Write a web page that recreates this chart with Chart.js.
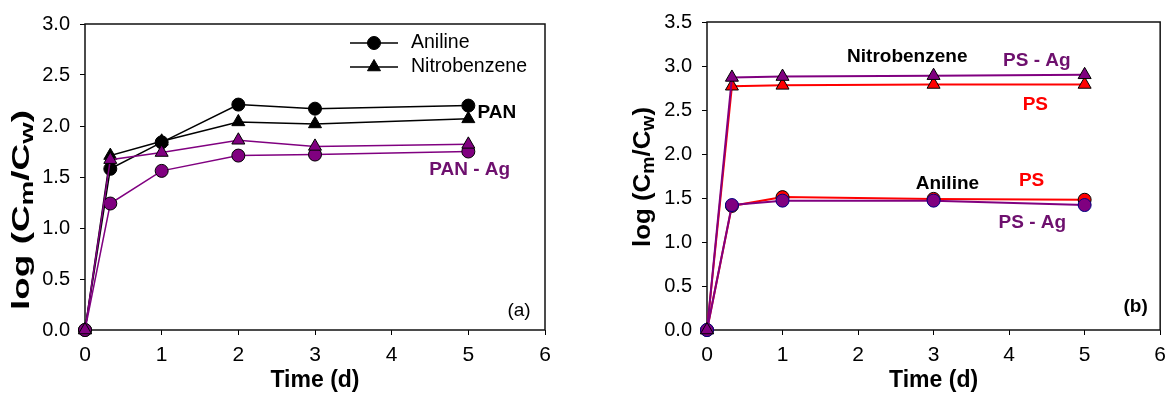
<!DOCTYPE html>
<html>
<head>
<meta charset="utf-8">
<script src="https://cdn.jsdelivr.net/npm/chart.js"></script>
<style>
  html, body { margin: 0; padding: 0; background: #fff; }
  .row { display: flex; width: 1174px; height: 394px; }
  canvas { display: block; }
</style>
</head>
<body>
<div class="row">
  <canvas id="panChart" width="587" height="394"></canvas>
  <canvas id="psChart" width="587" height="394"></canvas>
</div>
<script>
// sampling times in days
const panTime = [0, 0.33, 1, 2, 3, 5];
const psTime = [0, 0.33, 1, 3, 5];

// (a) PAN and PAN - Ag membranes, log(Cm/Cw)
const panAniline = [0, 1.58, 1.84, 2.21, 2.17, 2.20];
const panNitrobenzene = [0, 1.71, 1.85, 2.04, 2.02, 2.07];
const panAgAniline = [0, 1.24, 1.56, 1.71, 1.72, 1.75];
const panAgNitrobenzene = [0, 1.67, 1.74, 1.86, 1.80, 1.82];

// (b) PS and PS - Ag membranes, log(Cm/Cw)
const psAniline = [0, 1.41, 1.51, 1.49, 1.48];
const psNitrobenzene = [0, 2.77, 2.78, 2.79, 2.79];
const psAgAniline = [0, 1.42, 1.47, 1.47, 1.42];
const psAgNitrobenzene = [0, 2.87, 2.88, 2.89, 2.90];

// axis ranges
const xMax = 6;
const panYMax = 3.0;
const psYMax = 3.5;

const FONT = 'Arial, "Liberation Sans", sans-serif';
const PURPLE = '#800080';
const PURPLE_TEXT = '#6e106e';
const RED = '#ff0000';

function series(label, xs, ys, s) {
  return {
    label,
    data: xs.map((t, i) => ({ x: t, y: ys[i] })),
    borderColor: s.line,
    borderWidth: s.width || 1.5,
    pointStyle: s.shape,
    pointRadius: s.shape === 'triangle' ? 7.5 : 6.5,
    pointBackgroundColor: s.fill,
    pointBorderColor: s.edge || '#000',
    pointBorderWidth: 1,
    tension: 0,
    clip: false,
    order: s.order
  };
}

// box around the plot area
const frame = {
  id: 'frame',
  beforeDatasetsDraw(chart) {
    const { ctx, chartArea: a } = chart;
    ctx.save();
    ctx.strokeStyle = '#111';
    ctx.lineWidth = 1.5;
    ctx.strokeRect(a.left, a.top, a.right - a.left, a.bottom - a.top);
    ctx.restore();
  }
};

// rotated y title with subscripts: log (Cm/Cw)
const yTitle = {
  id: 'yTitle',
  afterDraw(chart, args, opts) {
    const ctx = chart.ctx;
    const parts = [['log (C', false], ['m', true], ['/C', false], ['w', true], [')', false]];
    const big = `bold 24px ${FONT}`;
    const small = `bold 18px ${FONT}`;
    ctx.save();
    let w = 0;
    for (const [t, sub] of parts) {
      ctx.font = sub ? small : big;
      w += ctx.measureText(t).width;
    }
    ctx.translate(opts.x, opts.y);
    ctx.rotate(-Math.PI / 2);
    ctx.scale(opts.length / w, 1);
    ctx.fillStyle = '#000';
    ctx.textBaseline = 'alphabetic';
    let x = -w / 2;
    for (const [t, sub] of parts) {
      ctx.font = sub ? small : big;
      ctx.fillText(t, x, sub ? 12 : 8);
      x += ctx.measureText(t).width;
    }
    ctx.restore();
  }
};

// legend drawn inside the plot: line with marker, then label
const insetLegend = {
  id: 'insetLegend',
  afterDatasetsDraw(chart, args, opts) {
    if (!opts.datasets) return;
    const ctx = chart.ctx;
    opts.datasets.forEach((index, row) => {
      const ds = chart.data.datasets[index];
      const y = opts.y + row * opts.rowHeight;
      ctx.save();
      ctx.strokeStyle = ds.borderColor;
      ctx.lineWidth = ds.borderWidth;
      ctx.beginPath();
      ctx.moveTo(opts.x, y);
      ctx.lineTo(opts.x + opts.lineLength, y);
      ctx.stroke();
      ctx.fillStyle = ds.pointBackgroundColor;
      ctx.strokeStyle = ds.pointBorderColor;
      ctx.lineWidth = ds.pointBorderWidth;
      Chart.helpers.drawPoint(ctx, {
        pointStyle: ds.pointStyle,
        radius: ds.pointRadius,
        borderWidth: ds.pointBorderWidth,
        rotation: 0
      }, opts.x + opts.lineLength / 2, y);
      ctx.fillStyle = '#000';
      ctx.font = `19.5px ${FONT}`;
      ctx.textBaseline = 'middle';
      ctx.fillText(ds.label, opts.x + opts.lineLength + opts.gap, y);
      ctx.restore();
    });
  }
};

// text labels placed in data units
const notes = {
  id: 'notes',
  afterDatasetsDraw(chart, args, opts) {
    const { ctx, scales: { x, y } } = chart;
    (opts.items || []).forEach(n => {
      ctx.save();
      ctx.font = `${n.bold === false ? '' : 'bold '}19px ${FONT}`;
      ctx.fillStyle = n.color || '#000';
      ctx.textBaseline = 'middle';
      ctx.fillText(n.text, x.getPixelForValue(n.x), y.getPixelForValue(n.y));
      ctx.restore();
    });
  }
};

function scales(yMax, yWidth) {
  const grid = { drawOnChartArea: false, drawTicks: true, tickLength: 5, color: '#000', lineWidth: 1 };
  return {
    x: {
      type: 'linear', min: 0, max: xMax,
      ticks: { stepSize: 1, color: '#000', font: { family: FONT, size: 21 }, padding: 8, maxRotation: 0, autoSkip: false },
      grid,
      border: { display: false },
      title: { display: true, text: 'Time (d)', color: '#000', font: { family: FONT, size: 23, weight: 'bold' }, padding: 0 },
      afterFit: s => { s.height = 64; }
    },
    y: {
      type: 'linear', min: 0, max: yMax,
      ticks: { stepSize: 0.5, callback: v => v.toFixed(1), color: '#000', font: { family: FONT, size: 20 }, padding: 10 },
      grid,
      border: { display: false },
      afterFit: s => { s.width = yWidth; }
    }
  };
}

new Chart(document.getElementById('panChart'), {
  type: 'line',
  data: {
    datasets: [
      series('Aniline', panTime, panAniline, { line: '#000', shape: 'circle', fill: '#000', order: 3 }),
      series('Nitrobenzene', panTime, panNitrobenzene, { line: '#000', shape: 'triangle', fill: '#000', order: 2 }),
      series('Aniline PAN - Ag', panTime, panAgAniline, { line: PURPLE, shape: 'circle', fill: PURPLE, order: 1 }),
      series('Nitrobenzene PAN - Ag', panTime, panAgNitrobenzene, { line: PURPLE, shape: 'triangle', fill: PURPLE, order: 0 })
    ]
  },
  options: {
    responsive: false,
    animation: false,
    events: [],
    layout: { padding: { top: 24, right: 42, left: 0, bottom: 0 } },
    scales: scales(panYMax, 85),
    plugins: {
      legend: { display: false },
      tooltip: { enabled: false },
      yTitle: { x: 21, y: 210, length: 200 },
      insetLegend: { datasets: [0, 1], x: 350, y: 43, rowHeight: 24, lineLength: 48, gap: 13 },
      notes: {
        items: [
          { text: 'PAN', x: 5.12, y: 2.13 },
          { text: 'PAN - Ag', x: 4.49, y: 1.57, color: PURPLE_TEXT },
          { text: '(a)', x: 5.51, y: 0.19, bold: false }
        ]
      }
    }
  },
  plugins: [frame, yTitle, insetLegend, notes]
});

new Chart(document.getElementById('psChart'), {
  type: 'line',
  data: {
    datasets: [
      series('Aniline PS', psTime, psAniline, { line: RED, shape: 'circle', fill: RED, width: 2, order: 3 }),
      series('Nitrobenzene PS', psTime, psNitrobenzene, { line: RED, shape: 'triangle', fill: RED, width: 2, order: 2 }),
      series('Aniline PS - Ag', psTime, psAgAniline, { line: PURPLE, shape: 'circle', fill: PURPLE, edge: '#000080', width: 2, order: 1 }),
      series('Nitrobenzene PS - Ag', psTime, psAgNitrobenzene, { line: PURPLE, shape: 'triangle', fill: PURPLE, width: 2, order: 0 })
    ]
  },
  options: {
    responsive: false,
    animation: false,
    events: [],
    layout: { padding: { top: 22, right: 7, left: 0, bottom: 0 } },
    scales: scales(psYMax, 120),
    plugins: {
      legend: { display: false },
      tooltip: { enabled: false },
      yTitle: { x: 55, y: 177, length: 140 },
      notes: {
        items: [
          { text: 'Nitrobenzene', x: 1.855, y: 3.106 },
          { text: 'PS - Ag', x: 3.92, y: 3.06, color: PURPLE_TEXT },
          { text: 'PS', x: 4.18, y: 2.565, color: RED },
          { text: 'Aniline', x: 2.764, y: 1.664 },
          { text: 'PS', x: 4.13, y: 1.695, color: RED },
          { text: 'PS - Ag', x: 3.86, y: 1.217, color: PURPLE_TEXT },
          { text: '(b)', x: 5.515, y: 0.26 }
        ]
      }
    }
  },
  plugins: [frame, yTitle, notes]
});
</script>
</body>
</html>
